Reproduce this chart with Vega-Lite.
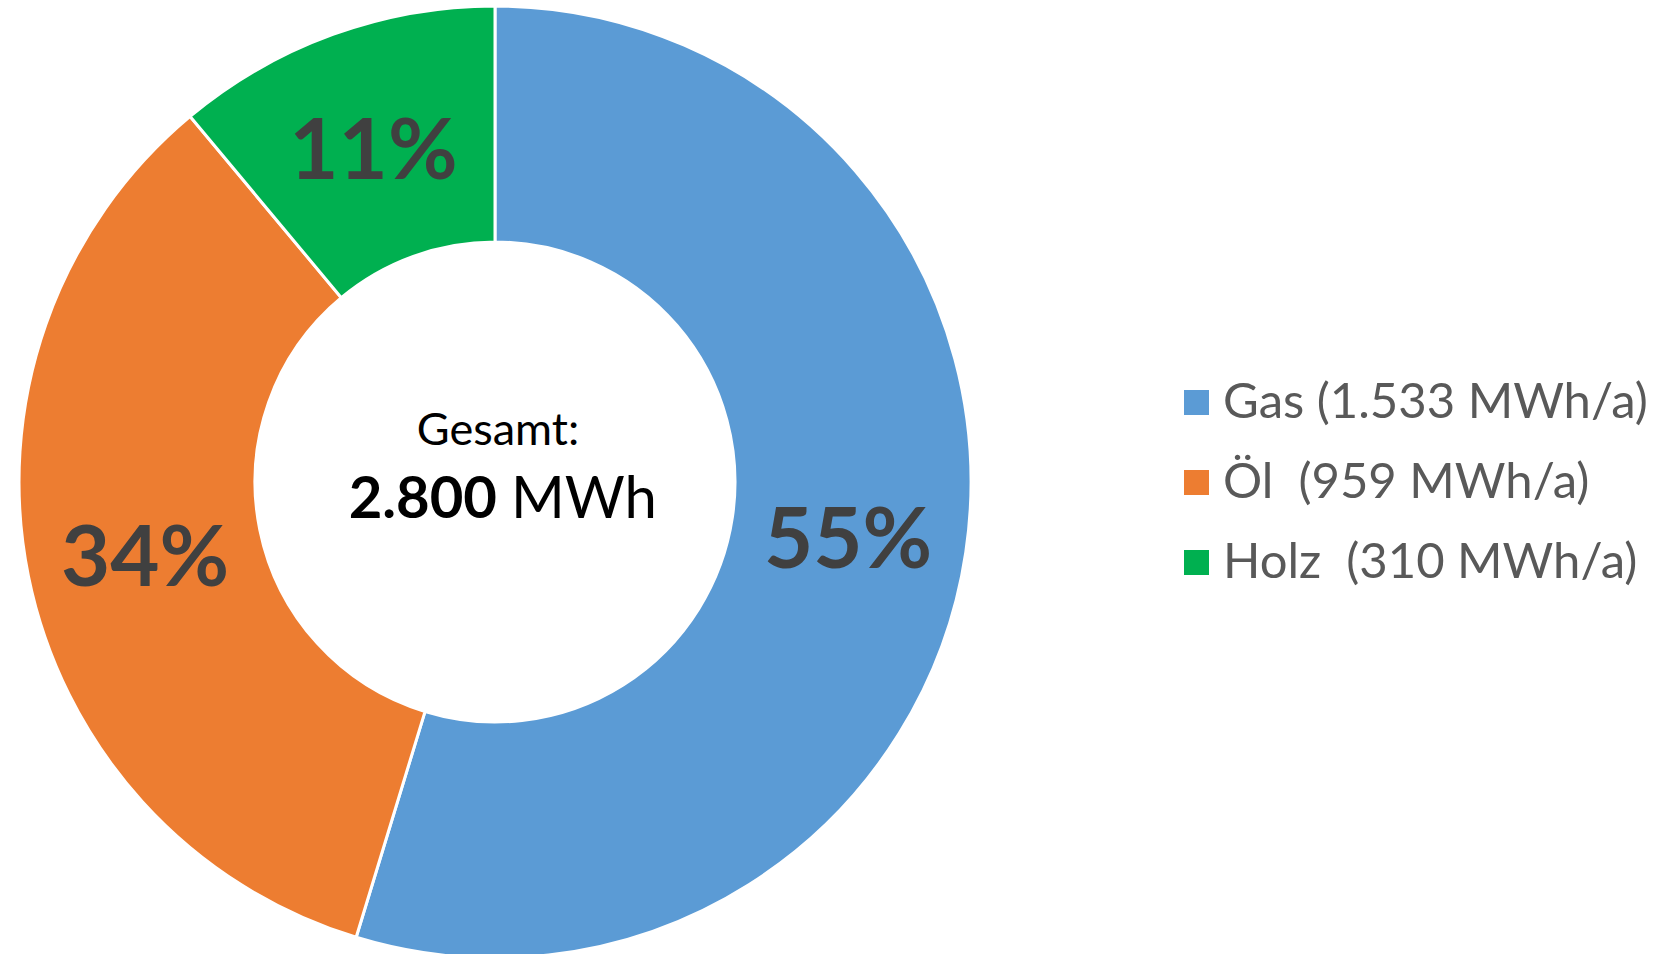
{
  "$schema": "https://vega.github.io/schema/vega-lite/v6.json",
  "width": 990,
  "height": 964,
  "padding": 0,
  "autosize": {"type": "pad"},
  "background": "white",
  "config": {"view": {"stroke": null}, "font": "Lato"},
  "data": {
    "values": [
      {"ord": 1, "label": "Gas (1.533 MWh/a)", "value": 1533, "pct": "55%"},
      {"ord": 2, "label": "Öl \u00a0(959 MWh/a)", "value": 959, "pct": "34%"},
      {"ord": 3, "label": "Holz \u00a0(310 MWh/a)", "value": 310, "pct": "11%"}
    ]
  },
  "layer": [
    {
      "mark": {"type": "arc", "outerRadius": 476, "innerRadius": 240, "stroke": "white", "strokeWidth": 3},
      "encoding": {
        "theta": {"field": "value", "type": "quantitative", "stack": true},
        "order": {"field": "ord", "type": "quantitative"},
        "color": {
          "field": "label",
          "type": "nominal",
          "scale": {
            "domain": ["Gas (1.533 MWh/a)", "Öl \u00a0(959 MWh/a)", "Holz \u00a0(310 MWh/a)"],
            "range": ["#5B9BD5", "#ED7D31", "#00B050"]
          },
          "legend": {
            "title": null,
            "orient": "none",
            "legendX": 1172,
            "legendY": 378,
            "padding": 0,
            "symbolType": "square",
            "symbolSize": 625,
            "symbolStrokeWidth": 0,
            "symbolOpacity": 1,
            "labelFont": "Lato",
            "labelFontSize": 49,
            "labelColor": "#595959",
            "labelOffset": 2,
            "rowPadding": 30,
            "labelLimit": 600
          }
        }
      }
    },
    {
      "mark": {"type": "text", "radius": 357, "font": "Lato", "fontWeight": "bold", "fontSize": 85, "color": "#404040", "baseline": "middle", "align": "center", "dy": 7},
      "encoding": {
        "theta": {"field": "value", "type": "quantitative", "stack": true},
        "order": {"field": "ord", "type": "quantitative"},
        "text": {"field": "pct", "type": "nominal"}
      }
    },
    {
      "data": {"values": [{"t": "Gesamt:"}]},
      "mark": {"type": "text", "font": "Lato", "fontSize": 45, "color": "#000000", "align": "center", "baseline": "alphabetic", "dx": 3, "dy": -37},
      "encoding": {"text": {"field": "t", "type": "nominal"}}
    },
    {
      "data": {"values": [{"t": "2.800"}]},
      "mark": {"type": "text", "font": "Lato", "fontWeight": "bold", "fontSize": 58, "color": "#000000", "align": "right", "baseline": "alphabetic", "dx": 2, "dy": 36},
      "encoding": {"text": {"field": "t", "type": "nominal"}}
    },
    {
      "data": {"values": [{"t": "MWh"}]},
      "mark": {"type": "text", "font": "Lato", "fontSize": 58, "color": "#000000", "align": "left", "baseline": "alphabetic", "dx": 16, "dy": 36},
      "encoding": {"text": {"field": "t", "type": "nominal"}}
    }
  ]
}
